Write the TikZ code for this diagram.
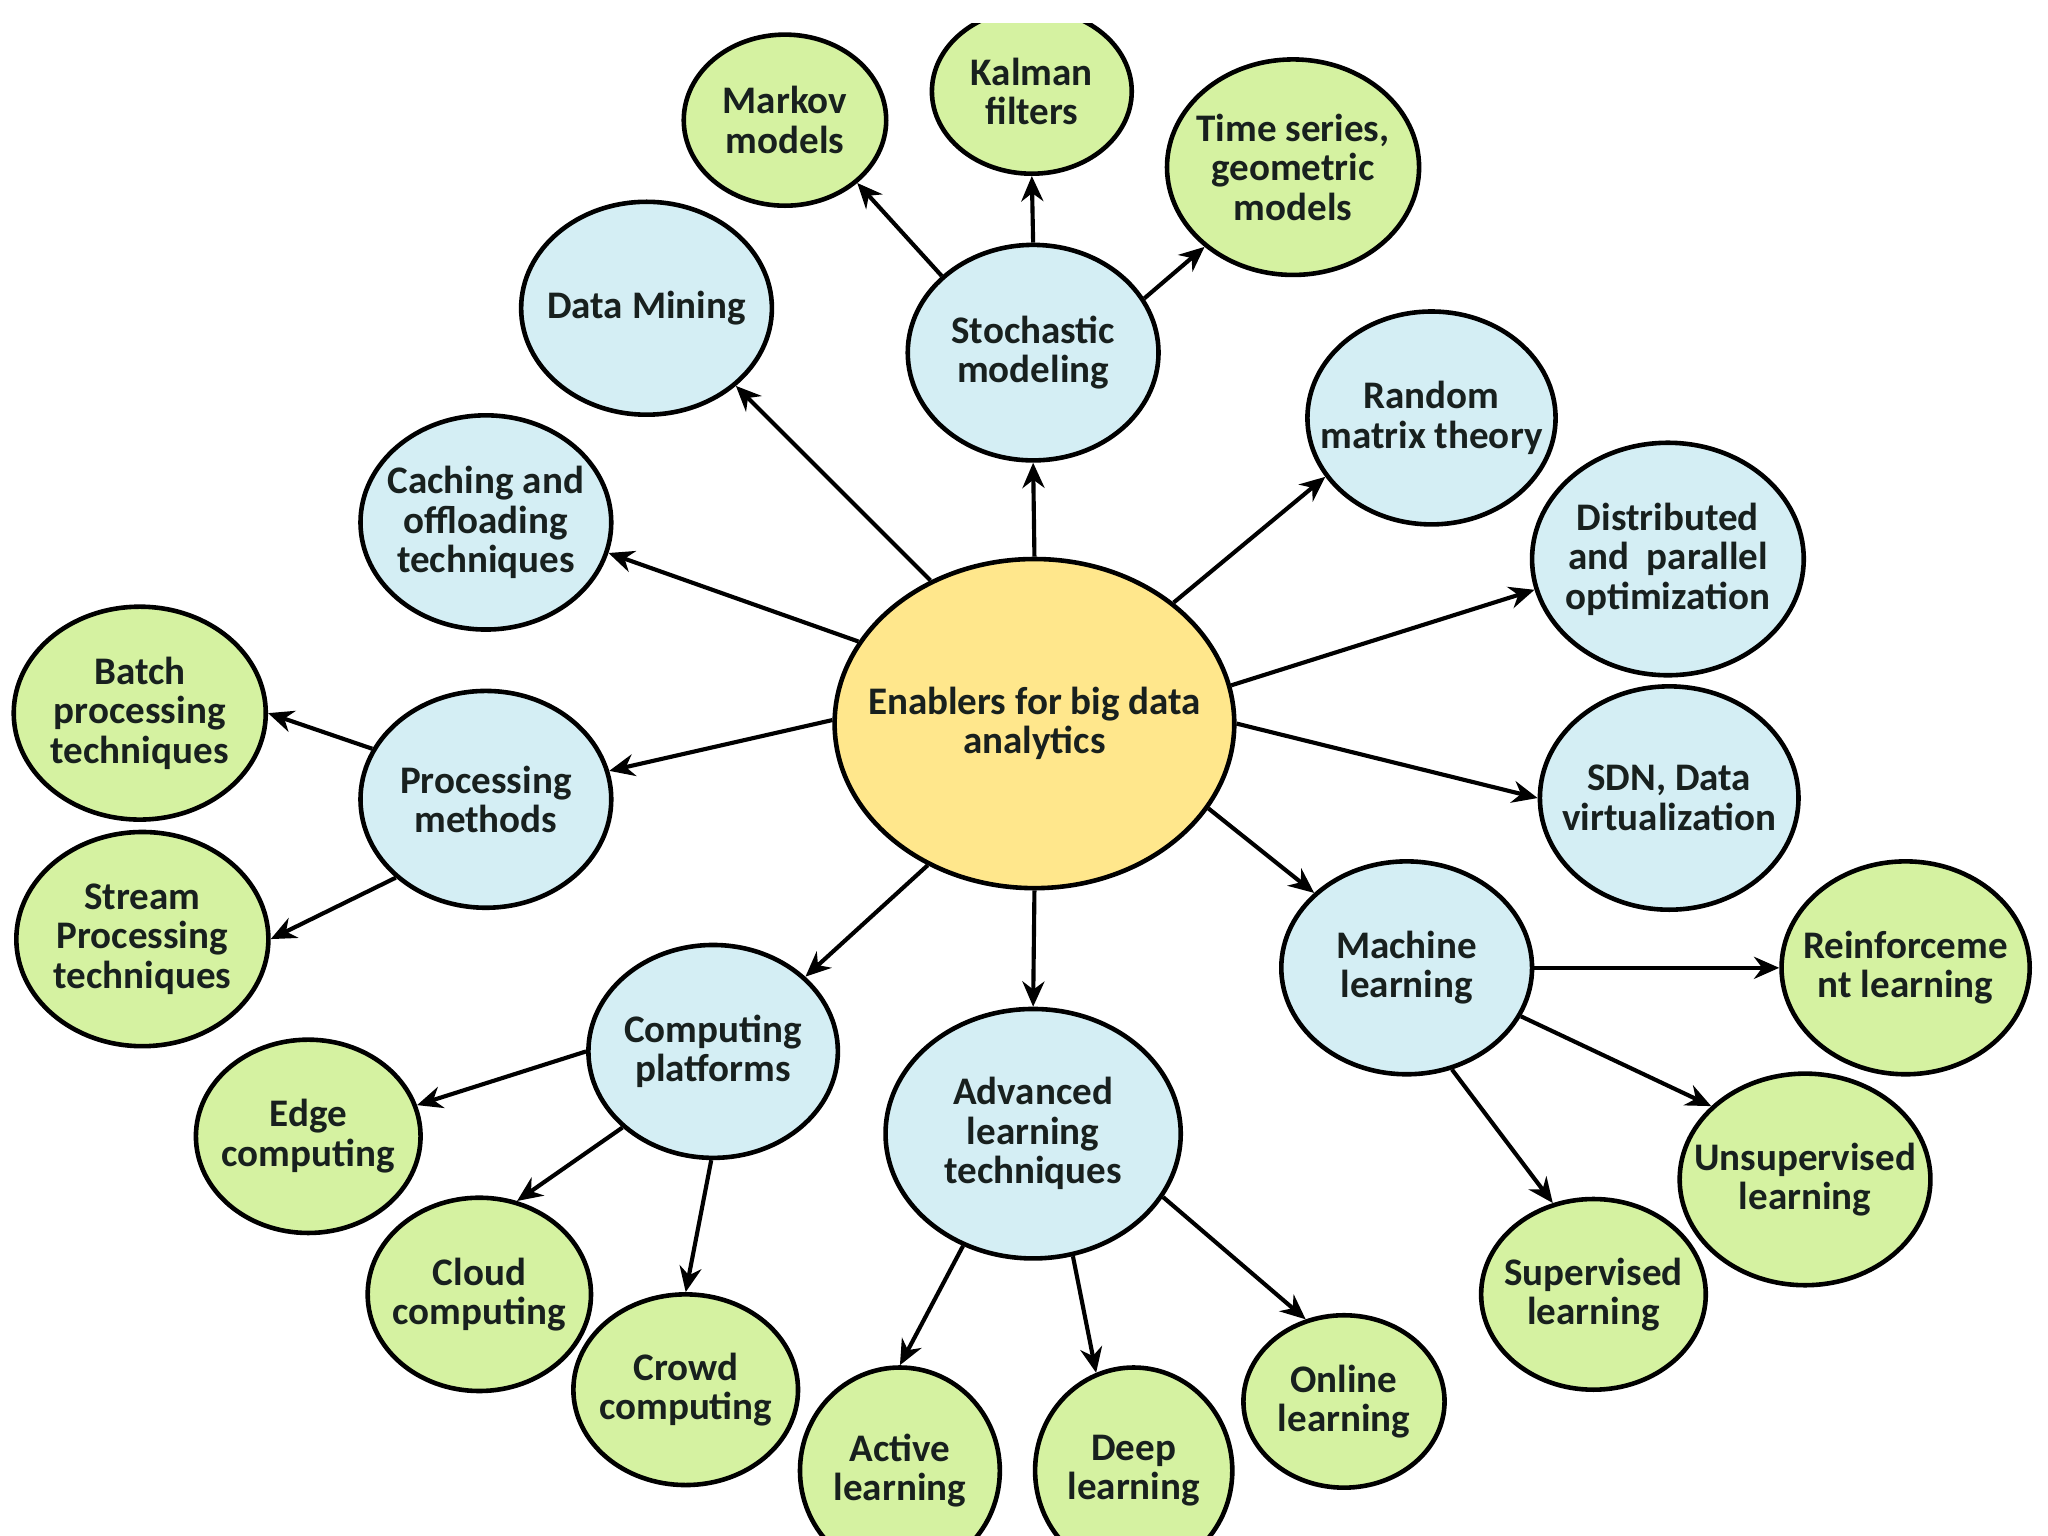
\documentclass[tikz,border=0pt]{standalone}
\usepackage{fontspec}
\setmainfont{Carlito}
\usetikzlibrary{shapes.geometric,arrows.meta}
\definecolor{azulclaro}{RGB}{212,238,244}
\definecolor{verdeclaro}{RGB}{213,242,161}
\definecolor{amarillo}{RGB}{255,231,140}
\definecolor{tinta}{RGB}{24,32,30}

\begin{document}
\begin{tikzpicture}[x=0.01cm, y=-0.01cm,
    burbuja/.style={ellipse, draw=black, line width=1pt, inner sep=-10pt, align=center,
        text=tinta, font=\fontsize{8.5}{8.6}\selectfont\bfseries},
    azul/.style={burbuja, fill=azulclaro},
    verde/.style={burbuja, fill=verdeclaro},
    talla/.style 2 args={minimum width=#1*0.01cm, minimum height=#2*0.01cm},
    flecha/.style={line width=0.9pt, -{Stealth[length=5.5pt, width=4.8pt]}}]
    \useasboundingbox (0,0) rectangle (1568,1176);
    \clip (0,18) rectangle (1568,1176);

    % Centro
    \node[burbuja, fill=amarillo, talla={306}{252}] (cen) at (792,554) {Enablers for big data\\analytics};

    % Primer nivel
    \node[azul, talla={192}{165}] (sto) at (791,270) {Stochastic\\modeling};
    \node[azul, talla={192}{163}] (dm) at (495,236) {Data Mining};
    \node[azul, talla={192}{164}] (cac) at (372,400) {Caching and\\offloading\\techniques};
    \node[azul, talla={192}{166}] (pro) at (372,612) {Processing\\methods};
    \node[azul, talla={191}{163}] (com) at (546,805) {Computing\\platforms};
    \node[azul, talla={226}{191}] (adv) at (791,868) {Advanced\\learning\\techniques};
    \node[azul, talla={192}{163}] (mac) at (1077,741) {Machine\\learning};
    \node[azul, talla={198}{171}] (sdn) at (1278,611) {SDN, Data\\virtualization};
    \node[azul, talla={208}{178}] (dis) at (1277,428) {Distributed\\and~~parallel\\optimization};
    \node[azul, talla={190}{163}] (ran) at (1096,320) {Random\\matrix theory};

    % Segundo nivel
    \node[verde, talla={155}{131}] (mar) at (601,92) {Markov\\models};
    \node[verde, talla={153}{126}] (kal) at (790,70) {Kalman\\filters};
    \node[verde, talla={193}{165}] (tim) at (990,128) {Time series,\\geometric\\models};
    \node[verde, talla={193}{163}] (bat) at (107,546) {Batch\\processing\\techniques};
    \node[verde, talla={193}{164}] (str) at (109,719) {Stream\\Processing\\techniques};
    \node[verde, talla={172}{148}] (edg) at (236,870) {Edge\\computing};
    \node[verde, talla={171}{148}] (clo) at (367,991) {Cloud\\computing};
    \node[verde, talla={172}{146}] (cro) at (525,1064) {Crowd\\computing};
    \node[verde, talla={153}{158}] (act) at (689,1126) {Active\\learning};
    \node[verde, talla={151}{158}] (dee) at (868,1126) {Deep\\learning};
    \node[verde, talla={154}{132}] (onl) at (1029,1073) {Online\\learning};
    \node[verde, talla={172}{146}] (sup) at (1220,991) {Supervised\\learning};
    \node[verde, talla={192}{162}] (uns) at (1382,903) {Unsupervised\\learning};
    \node[verde, talla={190}{163}] (rei) at (1459,741) {Reinforceme\\nt learning};

    % Flechas desde el centro
    \foreach \ini/\fin in {cen.north/sto.south, cen.126/dm.-41, cen.155/cac.-14,
        cen.179/pro.13, cen.-127/com.39, cen.south/adv.north, cen.-26/mac.141,
        cen.east/sdn.west, cen.11/dis.-167, cen.41/ran.-151} {
        \draw[flecha] (\ini) -- (\fin);
    }

    % Flechas del segundo nivel
    \foreach \ini/\fin in {sto.140/mar.-41, sto.north/kal.south, sto.26/tim.-138,
        pro.156/bat.east, pro.-139/str.east,
        com.west/edg.16, com.-140/clo.68, com.-91/cro.north,
        adv.-122/act.north, adv.-72/dee.111, adv.-26/onl.115,
        mac.east/rei.west, mac.-23/uns.142, mac.-66/sup.114} {
        \draw[flecha] (\ini) -- (\fin);
    }
\end{tikzpicture}
\end{document}
